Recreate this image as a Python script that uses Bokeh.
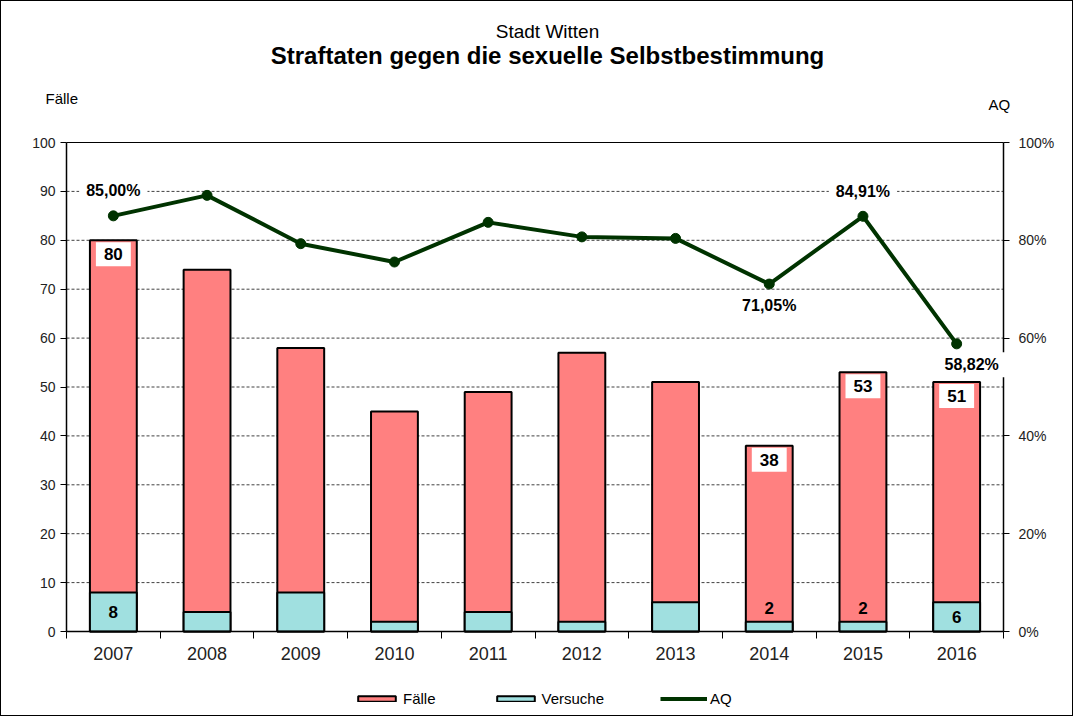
from bokeh.plotting import figure
from bokeh.models import (Range1d, LinearAxis, FixedTicker, Label, Legend, LegendItem,
                          NumeralTickFormatter, ColumnDataSource)
from bokeh.embed import file_html
from bokeh.resources import INLINE

# ---------------- data ----------------
years = ["2007", "2008", "2009", "2010", "2011", "2012", "2013", "2014", "2015", "2016"]
faelle = [80, 74, 58, 45, 49, 57, 51, 38, 53, 51]
versuche = [8, 4, 8, 2, 4, 2, 6, 2, 2, 6]
aq = [85.00, 89.19, 79.31, 75.56, 83.67, 80.70, 80.39, 71.05, 84.91, 58.82]
label_idx = [0, 7, 8, 9]          # years with data labels
aq_label_above = [True, False, True, False]
y_ticks = list(range(0, 101, 10))
aq_ticks = [0, 0.2, 0.4, 0.6, 0.8, 1.0]

FONT = "Liberation Sans"
PINK = "#FF8080"
CYAN = "#A0E0E0"
GREEN = "#003300"

# ---------------- layout (pixels) ----------------
W, H = 1073, 716
PL, PR, PT, PB = 65, 1002, 141, 630      # plot area inside the canvas
N = len(years)
ux = (PR - PL) / N
uy = (PB - PT) / 100.0
def dx(px):
    return (px - PL) / ux
def dy(py):
    return (PB - py) / uy

y0, y1 = dy(H), dy(0)
xc = [i + 0.5 for i in range(N)]
src = ColumnDataSource(dict(x=xc, f=faelle, v=versuche, aq=[a / 100 for a in aq]))

p = figure(width=W, height=H, output_backend="svg", toolbar_location=None,
           x_range=Range1d(dx(0), dx(W)), y_range=Range1d(y0, y1),
           min_border=0, min_border_left=0, min_border_right=0,
           min_border_top=0, min_border_bottom=0)
p.title.visible = False
p.extra_y_ranges = {"aq": Range1d(y0 / 100, y1 / 100)}
p.styles = {"border": "1px solid black"}
p.outline_line_color = None
p.background_fill_color = "white"
p.border_fill_color = "white"
p.xgrid.visible = False
p.ygrid.visible = False

# grid lines (dashed) inside the plot area, at the tick values
gt = y_ticks[1:-1]
p.segment(x0=[0] * len(gt), x1=[N] * len(gt), y0=gt, y1=gt, line_color="#404040",
          line_dash="3 2", line_width=1)

# x axis at y=0
xa = p.xaxis[0]
xa.fixed_location = 0
xa.bounds = (0, N)
xa.ticker = FixedTicker(ticks=xc, minor_ticks=list(range(0, N + 1)))
xa.major_label_overrides = {x: y for x, y in zip(xc, years)}
xa.major_tick_line_color = None
xa.minor_tick_out = 7
xa.minor_tick_in = 0
xa.minor_tick_line_color = "black"
xa.axis_line_color = "black"
xa.axis_line_width = 1.5
xa.major_label_text_font = FONT
xa.major_label_text_font_size = "18px"
xa.major_label_text_color = "#222222"
xa.major_label_standoff = 8

# left axis at x=0
ya = p.yaxis[0]
ya.fixed_location = 0
ya.bounds = (0, 100)
ya.ticker = FixedTicker(ticks=y_ticks)
ya.major_tick_out = 6
ya.major_tick_in = 0
ya.minor_tick_line_color = None
ya.axis_line_width = 1.5
ya.major_label_text_font = FONT
ya.major_label_text_font_size = "14px"
ya.major_label_text_color = "#222222"
ya.major_label_standoff = 5

# right axis (AQ) at x=N
ax2 = LinearAxis(y_range_name="aq", ticker=FixedTicker(ticks=aq_ticks),
                 formatter=NumeralTickFormatter(format="0%"), fixed_location=N, bounds=(0, 1))
ax2.major_tick_out = 6
ax2.major_tick_in = 0
ax2.minor_tick_line_color = None
ax2.axis_line_width = 1.5
ax2.major_label_text_font = FONT
ax2.major_label_text_font_size = "14px"
ax2.major_label_text_color = "#222222"
ax2.major_label_standoff = 9
p.add_layout(ax2, "right")

# top border of the plot area
top = LinearAxis(fixed_location=100, bounds=(0, N), ticker=FixedTicker(ticks=[]))
top.major_tick_line_color = None
top.minor_tick_line_color = None
top.major_label_text_font_size = "0px"
top.axis_line_width = 1
p.add_layout(top, "above")

# bars and line
rf = p.vbar(x="x", top="f", bottom=0, width=0.5, source=src, fill_color=PINK,
            line_color="black", line_width=2)
rv = p.vbar(x="x", top="v", bottom=0, width=0.5, source=src, fill_color=CYAN,
            line_color="black", line_width=2)
rl = p.line(x="x", y="aq", source=src, y_range_name="aq", line_color=GREEN, line_width=4)
rs = p.scatter(x="x", y="aq", source=src, y_range_name="aq", size=10, fill_color=GREEN,
               line_color=GREEN)

# data labels
for k, i in enumerate(label_idx):
    p.add_layout(Label(x=xc[i], y=faelle[i], y_offset=-14, text=str(faelle[i]),
                       text_align="center", text_baseline="middle", text_font=FONT,
                       text_font_style="bold", text_font_size="17px", text_color="black",
                       background_fill_color="white",
                       padding=dict(left=8, right=8, top=6, bottom=6)))
    v = versuche[i]
    if v >= 5:
        lab = Label(x=xc[i], y=v / 2, text=str(v))
    else:
        lab = Label(x=xc[i], y=v, y_offset=14, text=str(v))
    lab.text_align = "center"
    lab.text_baseline = "middle"
    lab.text_font = FONT
    lab.text_font_style = "bold"
    lab.text_font_size = "17px"
    lab.text_color = "black"
    p.add_layout(lab)
    above = aq_label_above[k]
    txt = f"{aq[i]:.2f}%".replace(".", ",")
    p.add_layout(Label(x=xc[i], y=aq[i] / 100, y_range_name="aq",
                       y_offset=(25 if above else -21), x_offset=(15 if i == N - 1 else 0),
                       text=txt, text_align="center", text_baseline="middle",
                       text_font=FONT, text_font_style="bold", text_font_size="16px",
                       text_color="black", background_fill_color="white",
                       padding=dict(left=7, right=7, top=4, bottom=4)))

# titles / axis captions
p.add_layout(Label(x=dx(546), y=dy(30), text="Stadt Witten", text_align="center",
                   text_baseline="middle", text_font=FONT, text_font_size="19px",
                   text_color="black"))
p.add_layout(Label(x=dx(546), y=dy(54), text="Straftaten gegen die sexuelle Selbstbestimmung",
                   text_align="center", text_baseline="middle", text_font=FONT,
                   text_font_style="bold", text_font_size="24px", text_color="black"))
p.add_layout(Label(x=dx(44), y=dy(97), text="Fälle", text_align="left", text_baseline="middle",
                   text_font=FONT, text_font_size="15px", text_color="black"))
p.add_layout(Label(x=dx(987), y=dy(103), text="AQ", text_align="left", text_baseline="middle",
                   text_font=FONT, text_font_size="15px", text_color="black"))

legend = Legend(items=[LegendItem(label="Fälle", renderers=[rf]),
                       LegendItem(label="Versuche", renderers=[rv]),
                       LegendItem(label="AQ", renderers=[rl, rs])],
                orientation="horizontal", location=(352, 10), spacing=56,
                glyph_width=47, glyph_height=7, label_standoff=3, padding=2, margin=0,
                label_text_font=FONT, label_text_font_size="15px", label_text_color="black",
                border_line_color=None, background_fill_alpha=0)
p.add_layout(legend)

open("out.html", "w").write(file_html(p, INLINE))
